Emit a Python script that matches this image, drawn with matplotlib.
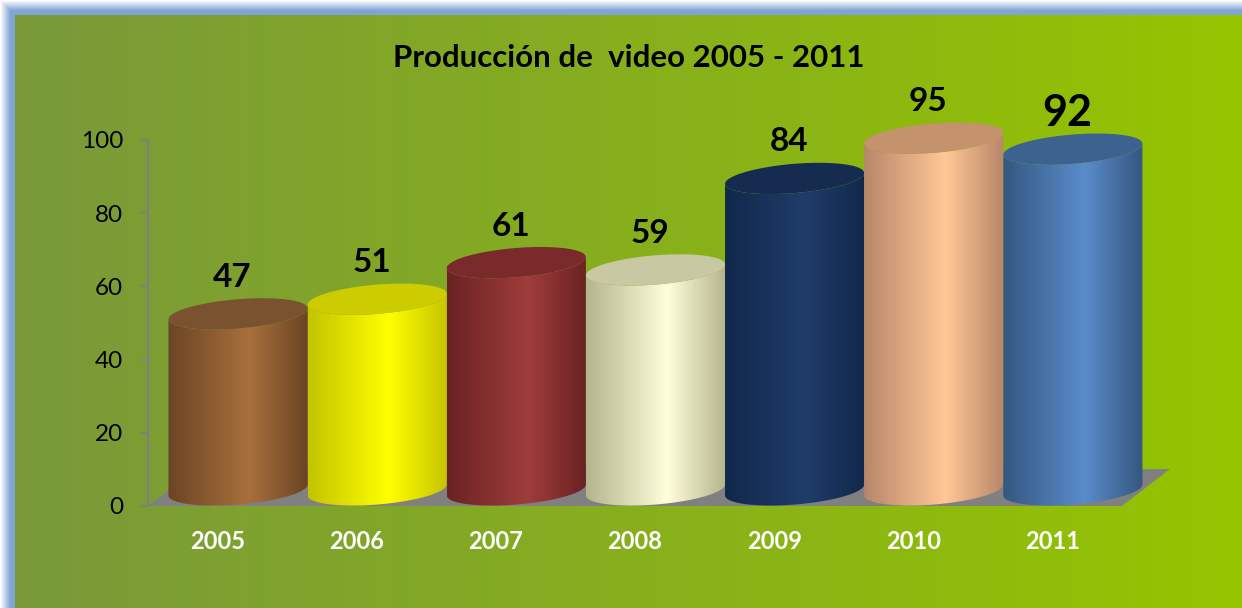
import matplotlib
matplotlib.use("Agg")
import matplotlib.pyplot as plt
import numpy as np
from matplotlib.colors import LinearSegmentedColormap, to_rgb
from matplotlib.patches import Polygon

# datos
anios = ['2005', '2006', '2007', '2008', '2009', '2010', '2011']
valores = [47, 51, 61, 59, 84, 95, 92]
titulo = 'Producción de  video 2005 - 2011'
marcas_y = [0, 20, 40, 60, 80, 100]

# colores de cada cilindro: borde, centro, tapa
borde = ['#6b4424', '#c4c400', '#6a2222', '#b4b48c', '#10284a', '#b8866a', '#34577f']
centro = ['#a9703c', '#ffff00', '#a03c3c', '#ffffdc', '#1f3d6a', '#ffc896', '#5a8ccc']
tapa = ['#7b5230', '#cccc00', '#7a2a2a', '#c8c8a2', '#152c50', '#c4926c', '#3c6290']

W, H = 1242, 608
DPI = 100
plt.rcParams['font.family'] = ['Lato', 'DejaVu Sans']

fig = plt.figure(figsize=(W / DPI, H / DPI), dpi=DPI)

# fondo: marco azul + degradado verde
xx, yy = np.meshgrid(np.arange(W), np.arange(H))
izq = np.array(to_rgb('#79993a'))
der = np.array(to_rgb('#95c500'))
t = np.clip((xx - 15) / (W - 15), 0, 1)[..., None]
fondo = izq * (1 - t) + der * t
d = np.minimum(xx, yy).astype(float)
azul = np.array(to_rgb('#82a4d4'))
k = np.clip(d / 10.0, 0, 1)[..., None]
marco = np.ones(3) * (1 - k) + azul * k
es_marco = (xx < 15) | (yy < 15)
img = np.where(es_marco[..., None], marco, fondo)
fig.figimage(img, 0, 0, origin='upper', zorder=-10)

# ejes: 0 en y=506 px, 100 en y=140 px
px_x = 974 / 7
px_y = 3.66
x0, x1 = -0.5, 7.0
y0, y1 = 0, 130
ax = fig.add_axes([148 / W, (H - 506) / H, (x1 - x0) * px_x / W, (y1 - y0) * px_y / H])
ax.set_zorder(5)
ax.set_xlim(x0, x1)
ax.set_ylim(y0, y1)
ax.patch.set_visible(False)
ax.set_autoscale_on(False)
for s in ['top', 'right', 'bottom']:
    ax.spines[s].set_visible(False)
ax.spines['left'].set_bounds(0, 100)
ax.spines['left'].set_color('#808080')
ax.spines['left'].set_linewidth(1.6)
ax.set_yticks(marcas_y)
ax.tick_params(axis='y', length=6, width=1.2, color='#808080', pad=12, labelsize=17.5)
ax.set_xticks(range(len(anios)))
ax.set_xticklabels(anios, color='white', fontweight='bold', fontsize=17)
ax.tick_params(axis='x', length=0, pad=17)

# piso gris
fondo_prof = 37 / px_y
dx_prof = 48 / px_x
piso = Polygon([(-0.5, 0), (6.5, 0), (6.5 + dx_prof, fondo_prof), (-0.5 + dx_prof, fondo_prof)],
               closed=True, facecolor='#808080', edgecolor='none', zorder=1)
ax.add_patch(piso)

# cilindros
desp = 0.147
a = 0.5
b = 4.0
incl = 1.5
base = 4.4
ts = np.linspace(np.pi, 2 * np.pi, 80)
tt = np.linspace(0, 2 * np.pi, 160)
for i, v in enumerate(valores):
    cx = i + desp
    ytop = v + 5.5
    arco_sup = np.column_stack([cx + a * np.cos(ts), ytop + b * np.sin(ts) + incl * np.cos(ts)])
    arco_inf = np.column_stack([cx + a * np.cos(ts), base + b * np.sin(ts) + incl * np.cos(ts)])
    cuerpo = np.vstack([arco_inf, arco_sup[::-1]])
    pc = Polygon(cuerpo, closed=True, facecolor='none', edgecolor='none', zorder=2 + i)
    ax.add_patch(pc)
    cmap = LinearSegmentedColormap.from_list('c%d' % i, [(0, borde[i]), (0.58, centro[i]), (1, borde[i])])
    grad = np.linspace(0, 1, 256)[None, :]
    im = ax.imshow(grad, cmap=cmap, aspect='auto', extent=(cx - a, cx + a, base - b - incl, ytop + incl),
                   zorder=2 + i, interpolation='bilinear')
    im.set_clip_path(pc)
    elipse = np.column_stack([cx + a * np.cos(tt), ytop + b * np.sin(tt) + incl * np.cos(tt)])
    ax.add_patch(Polygon(elipse, closed=True, facecolor=tapa[i], edgecolor='none', zorder=2 + i + 0.5))
    ax.text(cx - 0.04, v + 15.5, str(v), ha='center', va='center', fontweight='bold',
            fontsize=31 if i == len(valores) - 1 else 24, color='black', zorder=20)

fig.text(629 / W, 1 - 67 / H, titulo, ha='center', va='baseline', fontsize=22.5, fontweight='bold', color='black')

fig.savefig('out.png', dpi=DPI)
